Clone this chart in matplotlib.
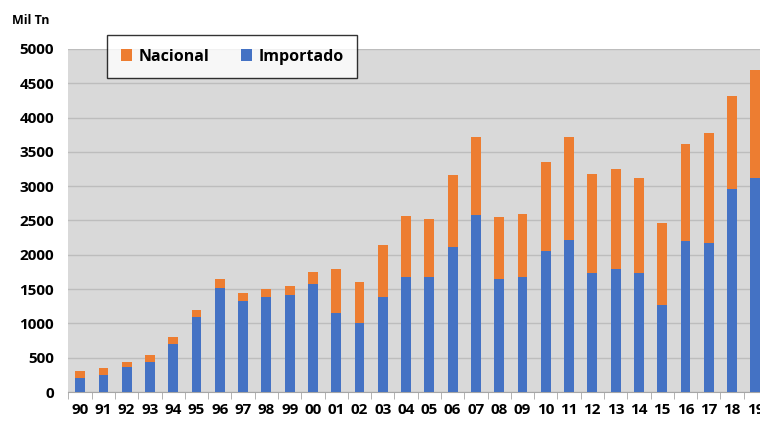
import matplotlib.pyplot as plt
import numpy as np

plt.rcParams['font.family'] = ['Open Sans', 'DejaVu Sans']

years = ['90', '91', '92', '93', '94', '95', '96', '97', '98', '99',
         '00', '01', '02', '03', '04', '05', '06', '07', '08', '09',
         '10', '11', '12', '13', '14', '15', '16', '17', '18', '19']
importado = [200, 250, 370, 440, 700, 1090, 1510, 1320, 1380, 1420,
             1570, 1150, 1000, 1380, 1680, 1670, 2120, 2580, 1650, 1680,
             2060, 2220, 1730, 1800, 1730, 1270, 2200, 2170, 2960, 3120]
nacional = [100, 100, 70, 100, 100, 110, 140, 130, 120, 130,
            180, 650, 600, 770, 890, 850, 1040, 1140, 900, 920,
            1300, 1500, 1450, 1450, 1390, 1200, 1410, 1600, 1350, 1570]

blue = '#4472C4'
orange = '#ED7D31'

fig = plt.figure(figsize=(7.6, 4.23), dpi=100)
ax = fig.add_axes([68 / 760, 31 / 423, 699 / 760, 343 / 423])
ax.set_facecolor('#D9D9D9')

x = np.arange(len(years))
ax.bar(x, importado, width=0.42, color=blue, label='Importado', zorder=3)
ax.bar(x, nacional, width=0.42, bottom=importado, color=orange,
       label='Nacional', zorder=3)

ax.set_xlim(-0.52, len(years) - 0.5)
ax.set_ylim(0, 5000)
ax.set_yticks(range(0, 5001, 500))
ax.yaxis.grid(True, color='#BDBDBD', linewidth=1, zorder=0)
ax.set_axisbelow(True)

for s in ['top', 'right', 'left']:
    ax.spines[s].set_visible(False)
ax.spines['bottom'].set_color('#A6A6A6')

# category labels centred on bars, tick marks between categories
ax.set_xticks(x)
ax.set_xticklabels(years, fontsize=11, fontweight='bold')
ax.tick_params(axis='x', length=0, pad=8)
ax.set_xticks(np.arange(-0.5, len(years)), minor=True)
ax.tick_params(axis='x', which='minor', length=5, color='#A6A6A6')
ax.tick_params(axis='y', length=0, labelsize=11, pad=10)
for lbl in ax.get_yticklabels():
    lbl.set_fontweight('bold')

fig.text(12 / 760, 1 - 20 / 423, 'Mil Tn', fontsize=9, fontweight='bold',
         va='center', ha='left')

handles, labels = ax.get_legend_handles_labels()
leg = ax.legend(handles[::-1], labels[::-1], loc='upper left',
                bbox_to_anchor=(107 / 760, 1 - 35 / 423),
                bbox_transform=fig.transFigure, ncol=2, frameon=True,
                fancybox=False, edgecolor='black', borderaxespad=0,
                handlelength=0.7, handleheight=0.7, handletextpad=0.4,
                columnspacing=2.0, borderpad=0.85,
                prop={'weight': 'bold', 'size': 11.5})
leg.get_frame().set_linewidth(1.0)

fig.savefig('out.png', dpi=100)
